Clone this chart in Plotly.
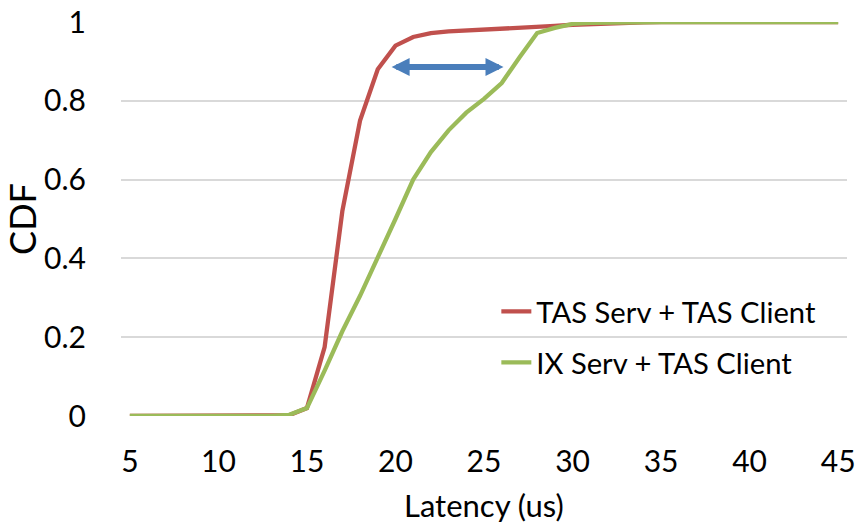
import plotly.graph_objects as go

latency = list(range(5, 46))
tas_tas = [0, 0, 0, 0, 0, 0, 0, 0, 0,
           0.002, 0.02, 0.175, 0.52, 0.75, 0.88, 0.94, 0.962, 0.972, 0.976,
           0.978, 0.98, 0.982, 0.984, 0.987, 0.99, 0.993, 0.995, 0.997, 0.998,
           0.999, 1, 1, 1, 1, 1, 1, 1, 1, 1, 1, 1]
ix_tas = [0, 0, 0, 0, 0, 0, 0, 0, 0,
          0.003, 0.02, 0.115, 0.215, 0.305, 0.40, 0.50, 0.60, 0.67, 0.725,
          0.77, 0.805, 0.845, 0.91, 0.972, 0.985, 0.995, 0.998, 0.999, 1,
          1, 1, 1, 1, 1, 1, 1, 1, 1, 1, 1, 1]
x_ticks = [5, 10, 15, 20, 25, 30, 35, 40, 45]
y_ticks = [0, 0.2, 0.4, 0.6, 0.8, 1]
y_tick_text = ["0", "0.2", "0.4", "0.6", "0.8", "1"]
arrow_y = 0.886
arrow_from = 19.7
arrow_to = 26.1

FONT = "Lato"
fig = go.Figure()
fig.add_trace(go.Scatter(x=latency, y=tas_tas, mode="lines", name="TAS Serv + TAS Client",
                         line=dict(color="#C0504D", width=4.3), cliponaxis=False,
                         legendgroup="a"))
fig.add_trace(go.Scatter(x=latency, y=ix_tas, mode="lines", name="IX Serv + TAS Client",
                         line=dict(color="#9BBB59", width=4.3), cliponaxis=False,
                         legendgroup="b"))

fig.add_annotation(x=arrow_to, y=arrow_y, ax=arrow_from, ay=arrow_y,
                   xref="x", yref="y", axref="x", ayref="y", text="",
                   showarrow=True, arrowside="end+start",
                   arrowhead=2, startarrowhead=2, arrowsize=0.6, startarrowsize=0.6,
                   arrowwidth=6, arrowcolor="#4A7EBB")

# x-axis title placed as a paper annotation below tick labels
fig.add_annotation(x=0.5, y=-0.226, xref="paper", yref="paper", text="Latency (us)",
                   showarrow=False, xanchor="center", yanchor="middle",
                   font=dict(family=FONT, size=31, color="#000000"))

fig.update_layout(
    width=862, height=523,
    margin=dict(l=121, r=15, t=22, b=107),
    paper_bgcolor="white", plot_bgcolor="white",
    font=dict(family=FONT, size=30, color="#000000"),
    showlegend=True,
    legend=dict(x=0.517, y=0.33, xanchor="left", yanchor="top",
                bgcolor="rgba(0,0,0,0)", font=dict(size=29.2),
                tracegroupgap=10),
    xaxis=dict(range=[4.5, 45.5], tickvals=x_ticks, showgrid=False, zeroline=False,
               showline=False, ticks="outside", ticklen=19, tickcolor="rgba(0,0,0,0)",
               automargin=False),
    yaxis=dict(range=[0, 1], tickvals=y_ticks, ticktext=y_tick_text, showgrid=True,
               gridcolor="#D9D9D9", gridwidth=1.5, zeroline=False, showline=False,
               ticks="outside", ticklen=28, tickcolor="rgba(0,0,0,0)",
               automargin=False,
               title=dict(text="CDF", standoff=6)),
)

fig.write_html("out.html")
